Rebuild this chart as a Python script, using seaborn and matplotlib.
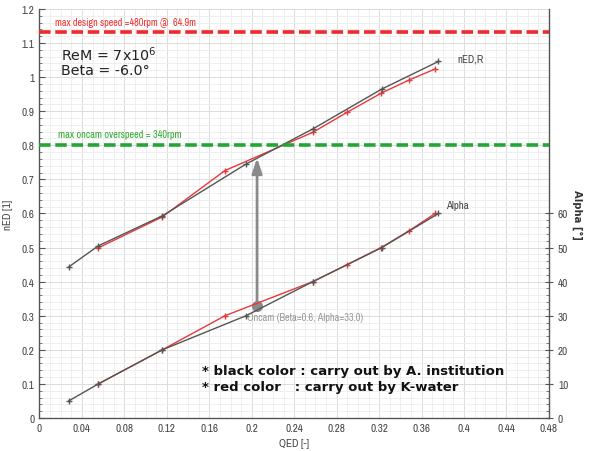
import matplotlib
matplotlib.use("Agg")
import matplotlib.pyplot as plt
from matplotlib.ticker import MultipleLocator, FixedLocator
import numpy as np
import pandas as pd
import seaborn as sns

# ---- data ----
qed_black = [0.0275, 0.0554, 0.1157, 0.1946, 0.2575, 0.3225, 0.3759]
ned_black = [0.443, 0.505, 0.593, 0.745, 0.848, 0.965, 1.046]
alpha_black = [5, 10, 20, 30, 40, 50, 60]

qed_red = [0.0554, 0.1157, 0.1748, 0.2575, 0.290, 0.322, 0.3486, 0.3728]
ned_red = [0.499, 0.590, 0.726, 0.838, 0.897, 0.953, 0.992, 1.024]
alpha_red = [10, 20, 30, 40, 45, 50, 55, 60]

design_speed_ned = 1.133
oncam_overspeed_ned = 0.80
oncam_point_q = 0.205
oncam_point_ned = 0.329
oncam_arrow_tip_ned = 0.763

x_ticks = [0, 0.04, 0.08, 0.12, 0.16, 0.2, 0.24, 0.28, 0.32, 0.36, 0.4, 0.44, 0.48]
x_tick_labels = ["0", "0.04", "0.08", "0.12", "0.16", "0.2", "0.24", "0.28", "0.32",
                 "0.36", "0.4", "0.44", "0.48"]
y_ticks = [0, 0.1, 0.2, 0.3, 0.4, 0.5, 0.6, 0.7, 0.8, 0.9, 1, 1.1, 1.2]
y_tick_labels = ["0", "0.1", "0.2", "0.3", "0.4", "0.5", "0.6", "0.7", "0.8", "0.9",
                 "1", "1.1", "1.2"]
alpha_ticks = [0, 10, 20, 30, 40, 50, 60]

sns.set_style("white")
narrow = ['Archivo Narrow', 'DejaVu Sans']
plt.rcParams['font.family'] = narrow

fig = plt.figure(figsize=(5.89, 4.52), dpi=100)
ax = fig.add_axes([0.067, 0.073, 0.865, 0.905])
ax2 = ax.twinx()

BLACK = "#555555"
RED = "#e8393b"

df_black = pd.DataFrame({"QED": qed_black, "nED": ned_black, "Alpha": alpha_black})
df_red = pd.DataFrame({"QED": qed_red, "nED": ned_red, "Alpha": alpha_red})

line_kw = dict(lw=1.0, marker="+", markersize=3.8, markeredgewidth=1.0, sort=False)
sns.lineplot(data=df_red, x="QED", y="nED", ax=ax, color=RED, markeredgecolor=RED, **line_kw)
sns.lineplot(data=df_black, x="QED", y="nED", ax=ax, color=BLACK, markeredgecolor=BLACK, **line_kw)
sns.lineplot(data=df_red, x="QED", y="Alpha", ax=ax2, color=RED, markeredgecolor=RED, **line_kw)
sns.lineplot(data=df_black, x="QED", y="Alpha", ax=ax2, color=BLACK, markeredgecolor=BLACK, **line_kw)

ax.set_xlim(0, 0.48)
ax.set_ylim(0, 1.2)
ax2.set_ylim(0, 120)

# horizontal limit lines
ax.axhline(design_speed_ned, color="#ee2a2a", lw=2.6, dashes=(3.2, 1.3), zorder=3)
ax.axhline(oncam_overspeed_ned, color="#22a832", lw=2.6, dashes=(3.2, 1.3), zorder=3)
ax.text(0.0146, 1.162, "max design speed =480rpm @  64.9m", color="#ee3333",
        fontsize=7.3, va="center", ha="left", family=narrow)
ax.text(0.0175, 0.832, "max oncam overspeed = 340rpm", color="#33aa33",
        fontsize=7.4, va="center", ha="left", family=narrow)

# oncam arrow
ax.annotate("", xy=(oncam_point_q, oncam_arrow_tip_ned), xytext=(oncam_point_q, oncam_point_ned),
            arrowprops=dict(arrowstyle="-|>,head_length=0.9,head_width=0.3",
                            color="#8a8a8a", lw=2.0, shrinkA=0, shrinkB=0), zorder=4)
ax.plot([oncam_point_q], [oncam_point_ned], marker="o", markersize=7, color="#8a8a8a", zorder=5)
ax.text(0.1953, 0.296, "Oncam (Beta=0.6, Alpha=33.0)", color="#999999", fontsize=7.4,
        va="center", ha="left", family=narrow)

# curve labels
ax.text(0.394, 1.056, "nED,R", color="#444444", fontsize=7.8, va="center", ha="left", family=narrow)
ax.text(0.383, 0.625, "Alpha", color="#444444", fontsize=7.8, va="center", ha="left", family=narrow)

# big text
ax.text(0.0205, 1.068, "ReM = 7x10$^{6}$", color="#222222", fontsize=10.3, va="center", ha="left",
        family="DejaVu Sans")
ax.text(0.0205, 1.02, "Beta = -6.0°", color="#222222", fontsize=10.3, va="center", ha="left",
        family="DejaVu Sans")
ax.text(0.153, 0.138, "* black color : carry out by A. institution", color="#111111",
        fontsize=9.5, fontweight="bold", va="center", ha="left", family="DejaVu Sans")
ax.text(0.153, 0.0915, "* red color   : carry out by K-water", color="#111111",
        fontsize=9.5, fontweight="bold", va="center", ha="left", family="DejaVu Sans")

# ticks & grid
ax.set_xticks(x_ticks)
ax.set_xticklabels(x_tick_labels)
ax.set_yticks(y_ticks)
ax.set_yticklabels(y_tick_labels)
ax.xaxis.set_minor_locator(MultipleLocator(0.01))
ax.yaxis.set_minor_locator(MultipleLocator(0.02))
ax2.set_yticks(alpha_ticks)
ax2.yaxis.set_minor_locator(FixedLocator(list(range(0, 61, 2))))

ax.grid(which="major", color="#dcdcdc", lw=0.7)
ax.grid(which="minor", color="#ededed", lw=0.6)
ax.set_axisbelow(True)

for a in (ax, ax2):
    a.tick_params(which="major", direction="in", length=4, width=0.8, color="#555555",
                  labelsize=8, labelcolor="#444444")
    a.tick_params(which="minor", direction="in", length=2.5, width=0.6, color="#666666")
ax2.tick_params(axis="y", which="major", direction="inout", length=6)

for a in (ax, ax2):
    a.spines["top"].set_visible(False)
    for s in ("left", "bottom", "right"):
        a.spines[s].set_color("#555555")
        a.spines[s].set_linewidth(1.0)
ax.spines["right"].set_visible(False)
ax2.spines["left"].set_visible(False)
ax2.spines["bottom"].set_visible(False)

ax.set_xlabel("QED [-]", fontsize=8, color="#444444", labelpad=4)
ax.set_ylabel("nED [1]", fontsize=8, color="#444444", labelpad=6)
ax2.set_ylabel("Alpha [°]", fontsize=8, color="#333333", fontweight="bold",
               rotation=270, labelpad=10, family=["DejaVu Sans"], fontstretch="condensed")
ax2.grid(False)

fig.savefig("out.png", dpi=100, facecolor="white")
